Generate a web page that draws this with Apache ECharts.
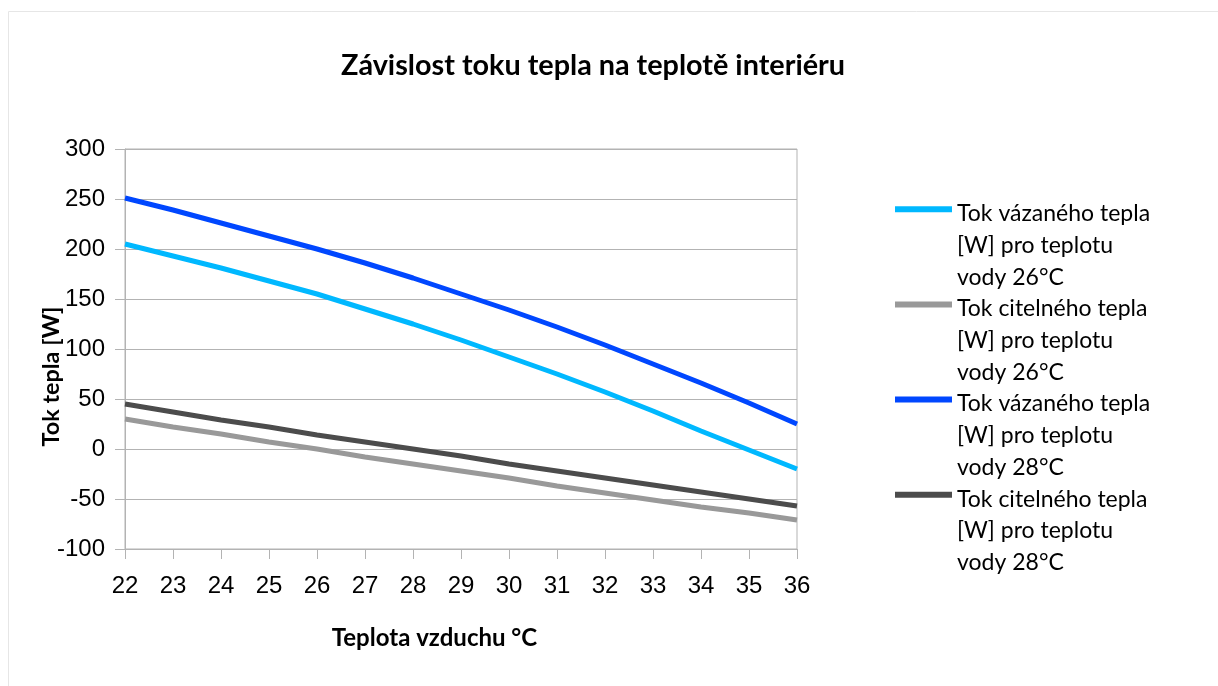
<!DOCTYPE html>
<html>
<head>
<meta charset="utf-8">
<script src="https://cdn.jsdelivr.net/npm/echarts@6/dist/echarts.min.js"></script>
<style>
html,body{margin:0;padding:0;background:#fff;}
#chart{width:1218px;height:686px;}
</style>
</head>
<body>
<div id="chart"></div>
<script>
// ---- data ----
const xValues = [22, 23, 24, 25, 26, 27, 28, 29, 30, 31, 32, 33, 34, 35, 36];
const latent26 = [205, 193, 181, 168, 155, 140, 125, 109, 92, 75, 57, 38, 18, -1, -20];
const sensible26 = [30, 22, 15, 7, 0, -8, -15, -22, -29, -37, -44, -51, -58, -64, -71];
const latent28 = [251, 239, 226, 213, 200, 186, 171, 155, 139, 122, 104, 85, 66, 46, 25];
const sensible28 = [45, 37, 29, 22, 14, 7, 0, -7, -15, -22, -29, -36, -43, -50, -57];
const seriesNames = [
  'Tok vázaného tepla\n[W] pro teplotu\nvody 26°C',
  'Tok citelného tepla\n[W] pro teplotu\nvody 26°C',
  'Tok vázaného tepla\n[W] pro teplotu\nvody 28°C',
  'Tok citelného tepla\n[W] pro teplotu\nvody 28°C'
];
const titleText = 'Závislost toku tepla na teplotě interiéru';
const xTitle = 'Teplota vzduchu °C';
const yTitle = 'Tok tepla [W]';
const colors = ['#00b8ff', '#999999', '#0047ff', '#4c4c4c'];

const seriesValues = [latent26, sensible26, latent28, sensible28];
const font = 'Lato, "Open Sans", sans-serif';
const axisFont = '"Liberation Sans", Arial, sans-serif';

const chart = echarts.init(document.getElementById('chart'), null, {renderer: 'canvas'});
chart.setOption({
  backgroundColor: '#ffffff',
  animation: false,
  color: colors,
  title: {
    text: titleText,
    left: 336,
    top: 46,
    textStyle: {fontFamily: font, fontWeight: 'bold', fontSize: 28.8, color: '#000'}
  },
  graphic: [{
    type: 'rect',
    shape: {x: 8.5, y: 11.5, width: 1400, height: 900},
    style: {fill: 'none', stroke: '#e6e6e6', lineWidth: 1},
    silent: true, z: -1
  }],
  grid: {
    left: 125, right: 421, top: 149, bottom: 137,
    show: true, borderColor: '#b3b3b3', borderWidth: 1,
    containLabel: false
  },
  legend: {
    orient: 'vertical',
    left: 890,
    top: 193,
    itemGap: 0,
    itemWidth: 57,
    itemHeight: 95,
    icon: 'path://M0,0 M0,8.3h57v6h-57z M57,95',
    itemStyle: {borderWidth: 0},
    textStyle: {fontFamily: font, fontSize: 23, lineHeight: 31.7, color: '#000'},
    data: seriesNames
  },
  xAxis: {
    type: 'value',
    min: 22, max: 36, interval: 1,
    name: xTitle,
    nameLocation: 'middle',
    nameGap: 77,
    nameMoveOverlap: false,
    nameTextStyle: {fontFamily: font, fontWeight: 'bold', fontSize: 24, color: '#000', padding: [0, 53, 0, 0]},
    axisLine: {show: true, onZero: false, lineStyle: {color: '#b3b3b3', width: 1}},
    axisTick: {show: true, length: 10, lineStyle: {color: '#b3b3b3'}},
    axisLabel: {fontFamily: axisFont, fontSize: 24, color: '#000', margin: 25},
    splitLine: {show: false}
  },
  yAxis: {
    type: 'value',
    min: -100, max: 300, interval: 50,
    name: yTitle,
    nameLocation: 'middle',
    nameGap: 62,
    nameMoveOverlap: false,
    nameTextStyle: {fontFamily: font, fontWeight: 'bold', fontSize: 23.4, color: '#000', padding: [0, 55, 0, 0]},
    axisLine: {show: true, lineStyle: {color: '#b3b3b3', width: 1}},
    axisTick: {show: true, length: 10, lineStyle: {color: '#b3b3b3'}},
    axisLabel: {fontFamily: axisFont, fontSize: 24, color: '#000', margin: 20},
    splitLine: {show: true, lineStyle: {color: '#b3b3b3', width: 1}}
  },
  series: seriesValues.map((vals, i) => ({
    name: seriesNames[i],
    type: 'line',
    data: xValues.map((x, j) => [x, vals[j]]),
    symbol: 'none',
    lineStyle: {width: 5, color: colors[i]},
    itemStyle: {color: colors[i]},
    z: 3
  }))
});
</script>
</body>
</html>
